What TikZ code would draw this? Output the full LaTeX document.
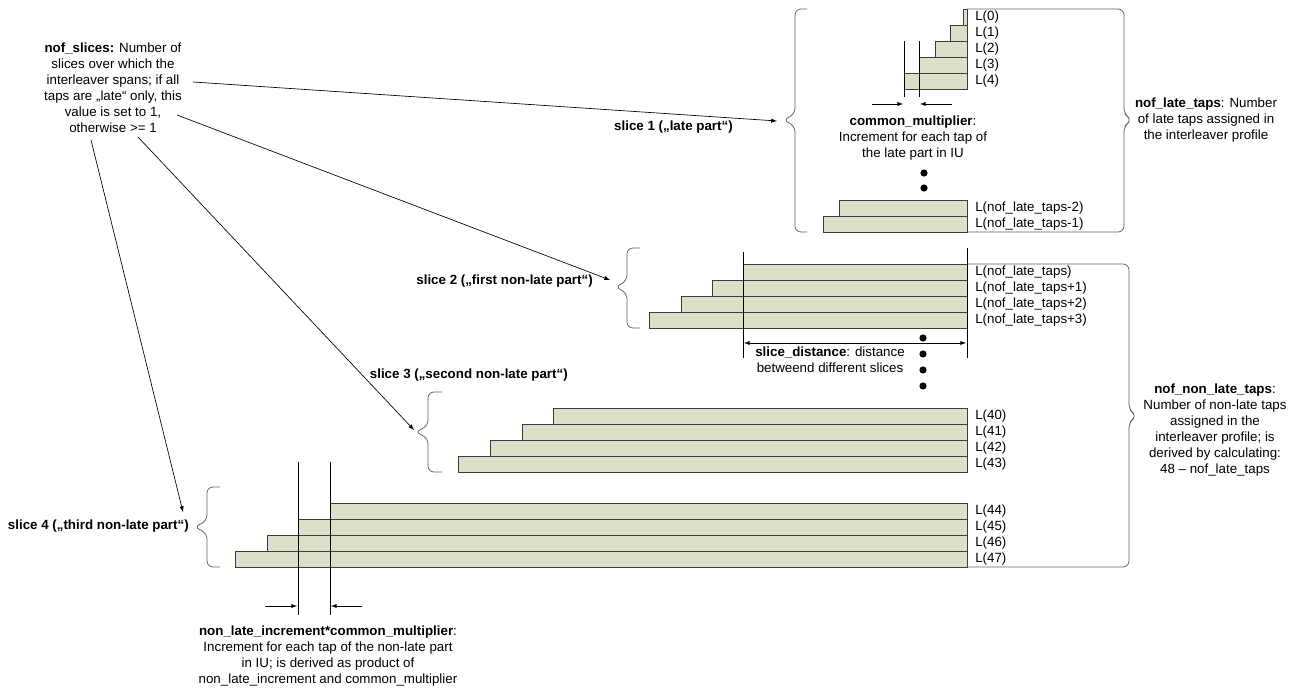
\documentclass[tikz,border=0pt]{standalone}
\usepackage{fontspec}
\setmainfont{Liberation Sans}
\usepackage{tikz}
\usetikzlibrary{arrows,calc}
\definecolor{tapfill}{RGB}{221,224,200}
\definecolor{tapline}{RGB}{60,60,60}
\definecolor{bracecol}{RGB}{100,100,100}

\begin{document}
\begin{tikzpicture}[x=0.75pt,y=-0.75pt,
  every node/.style={font=\fontsize{10}{12}\selectfont, inner sep=0pt},
  tap/.style={draw=tapline, fill=tapfill, line width=0.6pt},
  lbl/.style={anchor=west},
  slicelbl/.style={anchor=east, font=\fontsize{10}{12}\selectfont\bfseries},
  bracket/.style={draw=bracecol, line width=0.6pt, rounded corners=4.5pt},
  guide/.style={draw=black, line width=0.5pt},
  pointer/.style={draw=black, line width=0.5pt, -latex}]
\useasboundingbox (0,0) rectangle (1297,691);

% slice 1: late part
\foreach \l/\t/\n in {963/9/0, 950/25/1, 935/41/2, 919/57/3, 904/73/4} {
  \draw[tap] (\l,\t) rectangle (967,\t+16);
  \node[lbl] (L\n) at (975,\t+8) {L(\n)};
}
\draw[tap] (839,200) rectangle (967,216);
\draw[tap] (823,216) rectangle (967,232);
\node[lbl] (Lm2) at (975,208) {L(nof\_late\_taps-2)};
\node[lbl] (Lm1) at (975,224) {L(nof\_late\_taps-1)};
\draw[guide] (904,41) -- (904,97);
\draw[guide] (919,41) -- (919,97);
\draw[pointer] (872,104) -- (903,104);
\draw[pointer] (952,104) -- (920,104);
\node[align=center] (cm) at (913,138) {\textbf{common\_multiplier}:\\Increment for each tap of\\the late part in IU};
\fill (924,173) circle[radius=2.7pt];
\fill (924,188) circle[radius=2.7pt];
\draw[bracket] (807,9) -- (795,9) -- (795,114) -- (783,120) -- (795,126) -- (795,232) -- (807,232);
\draw[bracket] (967,9) -- (1124,9) -- (1124,114) -- (1132,120) -- (1124,126) -- (1124,232) -- (967,232);
\node[align=center] (nlt) at (1206,120) {\textbf{nof\_late\_taps}: Number\\of late taps assigned in\\the interleaver profile};
\node[slicelbl] (slice1) at (733,127) {slice 1 („late part“)};

% slice 2: first non-late part
\foreach \l/\t/\s in {743/264/, 712/280/+1, 681/296/+2, 649/312/+3} {
  \draw[tap] (\l,\t) rectangle (967,\t+16);
  \node[lbl] at (975,\t+8) {L(nof\_late\_taps\s)};
}
\draw[guide] (743,252) -- (743,358);
\draw[guide] (967,248) -- (967,358);
\draw[guide, latex-latex] (744,343) -- (966,343);
\node[align=center] (sd) at (830,360) {\textbf{slice\_distance}: distance\\betweend different slices};
\foreach \y in {338,354,370,386}
  \fill (923,\y) circle[radius=2.7pt];
\draw[bracket] (640,248) -- (627,248) -- (627,281) -- (615,287) -- (627,293) -- (627,328) -- (640,328);
\node[slicelbl] (slice2) at (593,281) {slice 2 („first non-late part“)};

% slice 3: second non-late part
\foreach \l/\t/\n in {553/408/40, 522/424/41, 490/440/42, 458/456/43} {
  \draw[tap] (\l,\t) rectangle (967,\t+16);
  \node[lbl] (L\n) at (975,\t+8) {L(\n)};
}
\draw[bracket] (442,392) -- (428,392) -- (428,426) -- (415,432) -- (428,438) -- (428,472) -- (442,472);
\node[slicelbl] (slice3) at (568,375) {slice 3 („second non-late part“)};

% slice 4: third non-late part
\foreach \l/\t/\n in {330/503/44, 298/519/45, 267/535/46, 235/551/47} {
  \draw[tap] (\l,\t) rectangle (967,\t+16);
  \node[lbl] (L\n) at (975,\t+8) {L(\n)};
}
\draw[guide] (298,462) -- (298,615);
\draw[guide] (330,462) -- (330,615);
\draw[pointer] (265,606) -- (297,606);
\draw[pointer] (362,606) -- (331,606);
\node[align=center] (nli) at (328,656) {\textbf{non\_late\_increment*common\_multiplier}:\\Increment for each tap of the non-late part\\in IU; is derived as product of\\non\_late\_increment and common\_multiplier};
\draw[bracket] (220,487) -- (207,487) -- (207,521) -- (194,527) -- (207,533) -- (207,567) -- (220,567);
\node[slicelbl] (slice4) at (189,526) {slice 4 („third non-late part“)};

% all non-late taps
\draw[bracket] (967,264) -- (1129,264) -- (1129,410) -- (1137,416) -- (1129,422) -- (1129,567) -- (967,567);
\node[align=center] (nnlt) at (1215,430) {\textbf{nof\_non\_late\_taps}:\\Number of non-late taps\\assigned in the\\interleaver profile; is\\derived by calculating:\\48 – nof\_late\_taps};

% nof_slices and its pointers
\node[align=center] (slices) at (113,88) {\textbf{nof\_slices:} Number of\\slices over which the\\interleaver spans; if all\\taps are „late“ only, this\\value is set to 1,\\otherwise >= 1};
\coordinate (from1) at (193,82);
\coordinate (from2) at (177,115);
\coordinate (from3) at (138,137);
\coordinate (from4) at (91,140);
\coordinate (tip1) at (777,121);
\coordinate (tip2) at (610,280);
\coordinate (tip3) at (414,430);
\coordinate (tip4) at (183,512);
\draw[pointer] (from1) -- (tip1);
\draw[pointer] (from2) -- (tip2);
\draw[pointer] (from3) -- (tip3);
\draw[pointer] (from4) -- (tip4);
\end{tikzpicture}
\end{document}
